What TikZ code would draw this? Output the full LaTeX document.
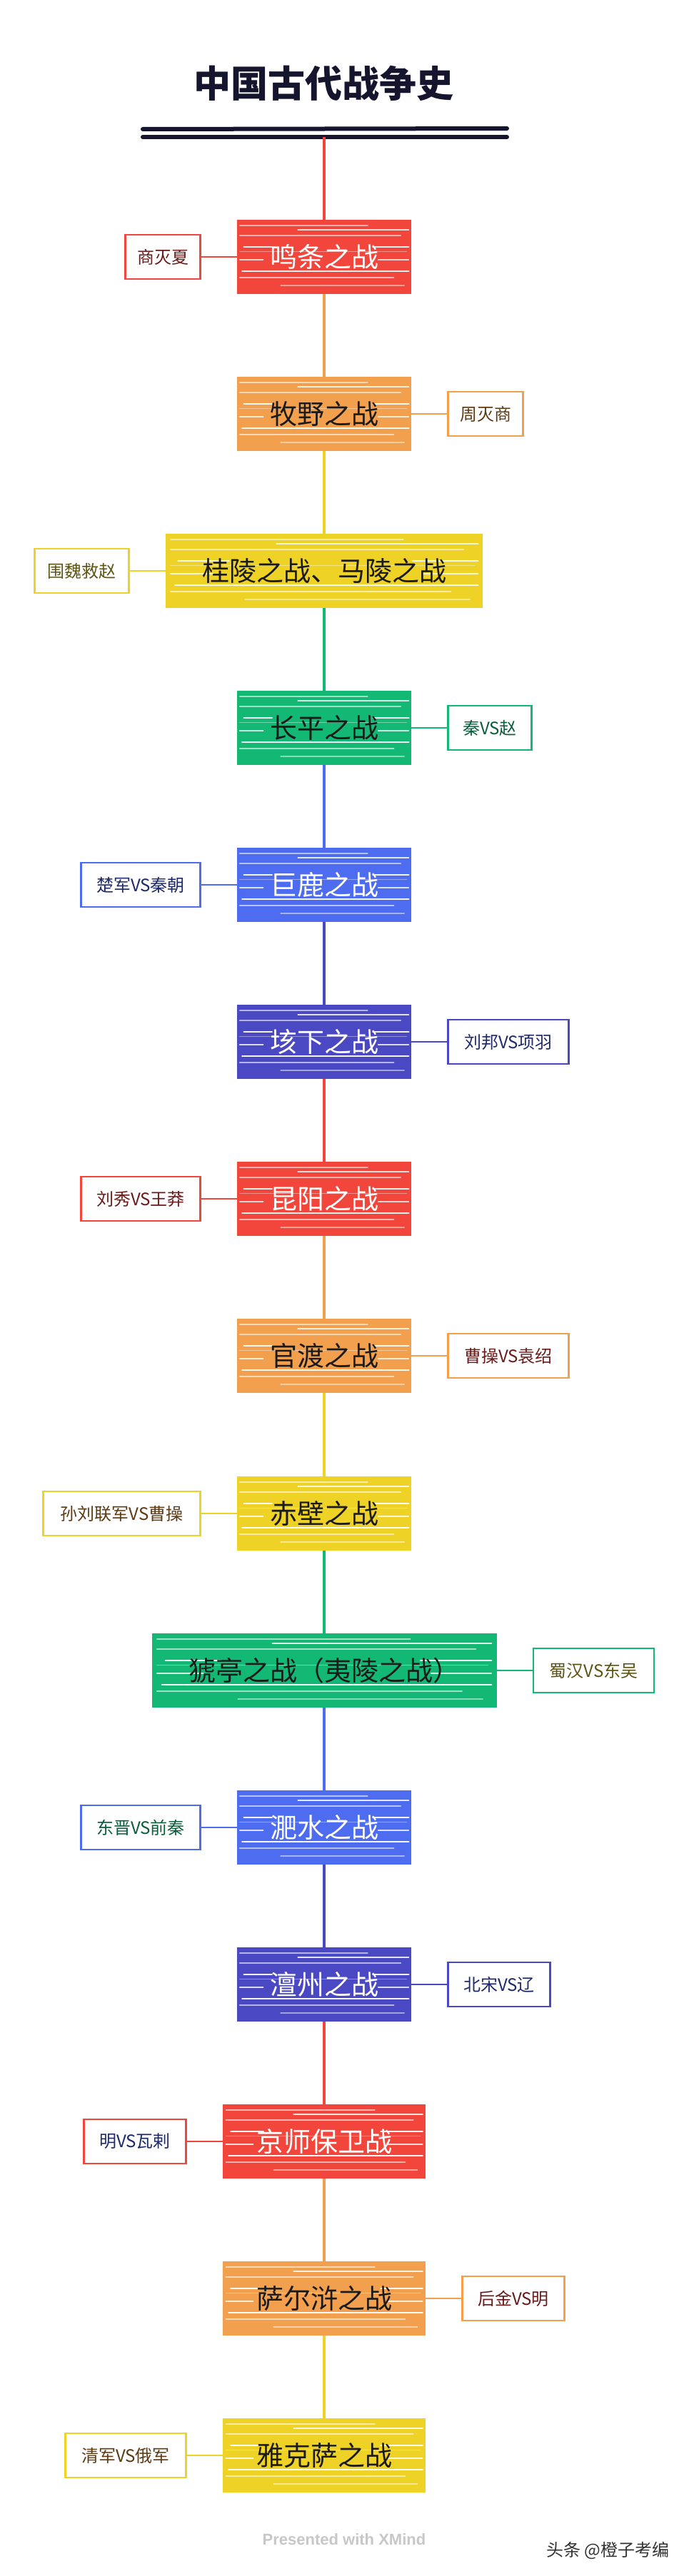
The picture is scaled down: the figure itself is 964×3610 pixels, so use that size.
\documentclass[tikz,border=0pt]{standalone}
\usepackage{fontspec}
\setmainfont{Noto Sans CJK SC}
\newfontfamily\latinsans{Liberation Sans}
\definecolor{cRed}{HTML}{F2453B}
\definecolor{cOrange}{HTML}{F3A04E}
\definecolor{cYellow}{HTML}{EFD226}
\definecolor{cGreen}{HTML}{12B874}
\definecolor{cBlue}{HTML}{4D6CF0}
\definecolor{cIndigo}{HTML}{4A48C2}
\definecolor{cTitle}{HTML}{15152E}
\definecolor{tRed}{HTML}{6B1A1A}
\definecolor{tBrown}{HTML}{5E3A12}
\definecolor{tOlive}{HTML}{5E5414}
\definecolor{tGreen}{HTML}{0B5E3C}
\definecolor{tNavy}{HTML}{1E2A6A}
\definecolor{tInk}{HTML}{1A1A1A}
% coloured, streaked background of a battle box: #1 centre y, #2 half width, #3 colour
\newcommand\battlebg[3]{%
  \fill[#3] ({454-#2},{#1-52}) rectangle ({454+#2},{#1+52});
  \foreach \sa/\sb/\sdy/\slw/\sop in {-.97/.5/-44/1.2/.6, -.3/.97/-38/2.2/.85,
      -.97/.88/-30/1.4/.6, -.92/-.6/-14/2.8/.95, .56/.97/-14/2.8/.95,
      -.97/.95/-8/1/.4, -.97/-.7/4/1.6/.8, .62/.97/4/1.6/.8,
      -.94/.97/20/2.8/.95, -.97/.8/29/1.4/.6, -.5/.92/40/1.2/.5}
    {\draw[white, line width=\slw pt, opacity=\sop, line cap=round]
       ({454+\sa*#2},{#1+\sdy}) -- ({454+\sb*#2},{#1+\sdy});}%
}
\tikzset{
  battle/.style={draw=none, minimum height=104pt, inner sep=0pt,
    font=\fontsize{38}{40}\selectfont},
  subbox/.style={draw, line width=2.6pt, fill=white, minimum height=62pt, inner sep=0pt,
    font=\fontsize{24}{26}\selectfont},
  sublink/.style={line width=2.4pt},
  trunk/.style={line width=4pt},
  titlebar/.style={line width=6pt, line cap=round, cTitle}
}
\begin{document}
\begin{tikzpicture}[x=1pt, y=-1pt]
\useasboundingbox (0,0) rectangle (964,3610);
\fill[white] (0,0) rectangle (964,3610);

% title
\node[text=cTitle, font=\bfseries\fontsize{52}{56}\selectfont] (title) at (453,117) {中国古代战争史};
\coordinate (bar1l) at (200,181); \coordinate (bar1r) at (710,180);
\coordinate (bar2l) at (200,192); \coordinate (bar2r) at (710,192);
\draw[titlebar] (bar1l) -- (bar1r);
\draw[titlebar] (bar2l) -- (bar2r);
\coordinate (top) at (454,192);

% battle backgrounds
\battlebg{360}{122}{cRed}
\battlebg{580}{122}{cOrange}
\battlebg{800}{222}{cYellow}
\battlebg{1020}{122}{cGreen}
\battlebg{1240}{122}{cBlue}
\battlebg{1460}{122}{cIndigo}
\battlebg{1680}{122}{cRed}
\battlebg{1900}{122}{cOrange}
\battlebg{2121}{122}{cYellow}
\battlebg{2341}{241.5}{cGreen}
\battlebg{2561}{122}{cBlue}
\battlebg{2781}{122}{cIndigo}
\battlebg{3001}{142}{cRed}
\battlebg{3221}{142}{cOrange}
\battlebg{3441}{142}{cYellow}

% battles
\node[battle, minimum width=244, text=white] (n1)  at (454,360)  {鸣条之战};
\node[battle, minimum width=244, text=tInk]  (n2)  at (454,580)  {牧野之战};
\node[battle, minimum width=444, text=tInk]  (n3)  at (454,800)  {桂陵之战、马陵之战};
\node[battle, minimum width=244, text=tInk]  (n4)  at (454,1020) {长平之战};
\node[battle, minimum width=244, text=white] (n5)  at (454,1240) {巨鹿之战};
\node[battle, minimum width=244, text=white] (n6)  at (454,1460) {垓下之战};
\node[battle, minimum width=244, text=white] (n7)  at (454,1680) {昆阳之战};
\node[battle, minimum width=244, text=tInk]  (n8)  at (454,1900) {官渡之战};
\node[battle, minimum width=244, text=tInk]  (n9)  at (454,2121) {赤壁之战};
\node[battle, minimum width=483, text=tInk]  (n10) at (454,2341) {猇亭之战（夷陵之战）};
\node[battle, minimum width=244, text=white] (n11) at (454,2561) {淝水之战};
\node[battle, minimum width=244, text=white] (n12) at (454,2781) {澶州之战};
\node[battle, minimum width=284, text=white] (n13) at (454,3001) {京师保卫战};
\node[battle, minimum width=284, text=tInk]  (n14) at (454,3221) {萨尔浒之战};
\node[battle, minimum width=284, text=tInk]  (n15) at (454,3441) {雅克萨之战};

% trunk connectors
\draw[trunk, cRed]    (top) -- (n1.north);
\draw[trunk, cOrange] (n1.south) -- (n2.north);
\draw[trunk, cYellow] (n2.south) -- (n3.north);
\draw[trunk, cGreen]  (n3.south) -- (n4.north);
\draw[trunk, cBlue]   (n4.south) -- (n5.north);
\draw[trunk, cIndigo] (n5.south) -- (n6.north);
\draw[trunk, cRed]    (n6.south) -- (n7.north);
\draw[trunk, cOrange] (n7.south) -- (n8.north);
\draw[trunk, cYellow] (n8.south) -- (n9.north);
\draw[trunk, cGreen]  (n9.south) -- (n10.north);
\draw[trunk, cBlue]   (n10.south) -- (n11.north);
\draw[trunk, cIndigo] (n11.south) -- (n12.north);
\draw[trunk, cRed]    (n12.south) -- (n13.north);
\draw[trunk, cOrange] (n13.south) -- (n14.north);
\draw[trunk, cYellow] (n14.south) -- (n15.north);

% sub topics
\node[subbox, draw=cRed,    minimum width=105, text=tRed,   anchor=east] (s1)  at ([xshift=-50pt]n1.west)  {商灭夏};
\node[subbox, draw=cOrange, minimum width=105, text=tBrown, anchor=west] (s2)  at ([xshift=50pt]n2.east)   {周灭商};
\node[subbox, draw=cYellow, minimum width=132, text=tOlive, anchor=east] (s3)  at ([xshift=-50pt]n3.west)  {围魏救赵};
\node[subbox, draw=cGreen,  minimum width=117, text=tGreen, anchor=west] (s4)  at ([xshift=50pt]n4.east)   {秦VS赵};
\node[subbox, draw=cBlue,   minimum width=167, text=tNavy,  anchor=east] (s5)  at ([xshift=-50pt]n5.west)  {楚军VS秦朝};
\node[subbox, draw=cIndigo, minimum width=169, text=tNavy,  anchor=west] (s6)  at ([xshift=50pt]n6.east)   {刘邦VS项羽};
\node[subbox, draw=cRed,    minimum width=167, text=tRed,   anchor=east] (s7)  at ([xshift=-50pt]n7.west)  {刘秀VS王莽};
\node[subbox, draw=cOrange, minimum width=169, text=tRed,   anchor=west] (s8)  at ([xshift=50pt]n8.east)   {曹操VS袁绍};
\node[subbox, draw=cYellow, minimum width=220, text=tBrown, anchor=east] (s9)  at ([xshift=-50pt]n9.west)  {孙刘联军VS曹操};
\node[subbox, draw=cGreen,  minimum width=169, text=tOlive, anchor=west] (s10) at ([xshift=50pt]n10.east)  {蜀汉VS东吴};
\node[subbox, draw=cBlue,   minimum width=167, text=tGreen, anchor=east] (s11) at ([xshift=-50pt]n11.west) {东晋VS前秦};
\node[subbox, draw=cIndigo, minimum width=143, text=tNavy,  anchor=west] (s12) at ([xshift=50pt]n12.east)  {北宋VS辽};
\node[subbox, draw=cRed,    minimum width=143, text=tNavy,  anchor=east] (s13) at ([xshift=-50pt]n13.west) {明VS瓦剌};
\node[subbox, draw=cOrange, minimum width=143, text=tRed,   anchor=west] (s14) at ([xshift=50pt]n14.east)  {后金VS明};
\node[subbox, draw=cYellow, minimum width=169, text=tBrown, anchor=east] (s15) at ([xshift=-50pt]n15.west) {清军VS俄军};

% sub links
\draw[sublink, cRed]    (s1.east)  -- (n1.west);
\draw[sublink, cOrange] (n2.east)  -- (s2.west);
\draw[sublink, cYellow] (s3.east)  -- (n3.west);
\draw[sublink, cGreen]  (n4.east)  -- (s4.west);
\draw[sublink, cBlue]   (s5.east)  -- (n5.west);
\draw[sublink, cIndigo] (n6.east)  -- (s6.west);
\draw[sublink, cRed]    (s7.east)  -- (n7.west);
\draw[sublink, cOrange] (n8.east)  -- (s8.west);
\draw[sublink, cYellow] (s9.east)  -- (n9.west);
\draw[sublink, cGreen]  (n10.east) -- (s10.west);
\draw[sublink, cBlue]   (s11.east) -- (n11.west);
\draw[sublink, cIndigo] (n12.east) -- (s12.west);
\draw[sublink, cRed]    (s13.east) -- (n13.west);
\draw[sublink, cOrange] (n14.east) -- (s14.west);
\draw[sublink, cYellow] (s15.east) -- (n15.west);

% footer
\node[text=black!22, font=\latinsans\bfseries\fontsize{22}{24}\selectfont] (xmind) at (482,3559) {Presented with XMind};
\node[text=black!80, font=\fontsize{24}{26}\selectfont, anchor=west, inner sep=0pt] (mark) at (765,3574) {头条 @橙子考编};
\end{tikzpicture}
\end{document}
